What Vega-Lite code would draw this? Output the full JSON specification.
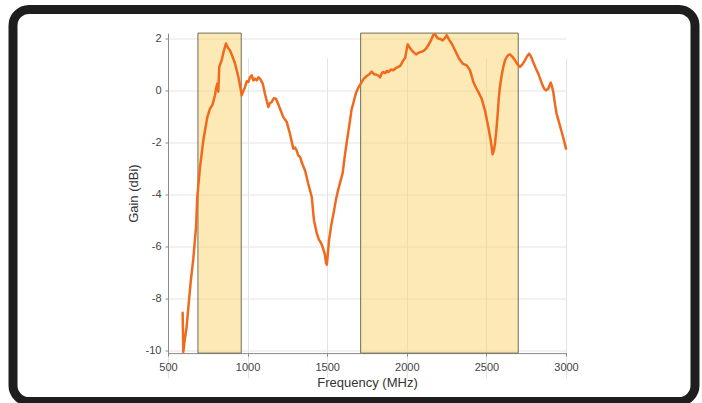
{
  "$schema": "https://vega.github.io/schema/vega-lite/v6.json",
  "width": 682,
  "height": 392,
  "autosize": "none",
  "padding": {"left": 13, "top": 9.5, "right": 7, "bottom": 1.5},
  "background": "white",
  "config": {
    "view": {"stroke": "#1e1e1e", "strokeWidth": 9, "cornerRadius": 16, "fill": "white"},
    "font": "Liberation Sans",
    "axis": {
      "gridColor": "#e3e3e3",
      "gridWidth": 1,
      "domainColor": "#8a8a8a",
      "domainWidth": 1,
      "tickColor": "#8a8a8a",
      "tickSize": 3,
      "labelColor": "#444444",
      "labelFontSize": 11,
      "labelFont": "Liberation Sans",
      "labelFlush": false,
      "titleFont": "Liberation Sans",
      "titleFontSize": 13,
      "titleFontWeight": "normal",
      "titleColor": "#333333"
    }
  },
  "datasets": {
    "bands": [
      {"lo": 688, "hi": 960},
      {"lo": 1710, "hi": 2700}
    ],
    "curve": [
      {"f": 592, "g": -8.55}, {"f": 596, "g": -10.06}, {"f": 605, "g": -9.6}, {"f": 617, "g": -9.1},
      {"f": 628, "g": -8.33}, {"f": 642, "g": -7.4}, {"f": 659, "g": -6.47}, {"f": 676, "g": -5.26},
      {"f": 684, "g": -4.1}, {"f": 701, "g": -2.95}, {"f": 722, "g": -1.92}, {"f": 747, "g": -1.03},
      {"f": 764, "g": -0.7}, {"f": 780, "g": -0.55}, {"f": 795, "g": -0.19}, {"f": 803, "g": 0.1},
      {"f": 810, "g": 0.26}, {"f": 816, "g": -0.05}, {"f": 822, "g": 0.9}, {"f": 837, "g": 1.15},
      {"f": 850, "g": 1.5}, {"f": 864, "g": 1.8}, {"f": 875, "g": 1.65}, {"f": 889, "g": 1.54},
      {"f": 905, "g": 1.3}, {"f": 921, "g": 1.03}, {"f": 942, "g": 0.51}, {"f": 955, "g": 0.1},
      {"f": 963, "g": -0.19}, {"f": 975, "g": 0.0}, {"f": 984, "g": 0.13}, {"f": 995, "g": 0.35},
      {"f": 1005, "g": 0.32}, {"f": 1015, "g": 0.5}, {"f": 1026, "g": 0.58}, {"f": 1036, "g": 0.38},
      {"f": 1046, "g": 0.45}, {"f": 1057, "g": 0.38}, {"f": 1068, "g": 0.5}, {"f": 1078, "g": 0.45},
      {"f": 1095, "g": 0.26}, {"f": 1109, "g": -0.13}, {"f": 1120, "g": -0.4}, {"f": 1130, "g": -0.64},
      {"f": 1140, "g": -0.5}, {"f": 1151, "g": -0.45}, {"f": 1165, "g": -0.3}, {"f": 1178, "g": -0.32},
      {"f": 1190, "g": -0.5}, {"f": 1203, "g": -0.7}, {"f": 1224, "g": -1.03}, {"f": 1246, "g": -1.22},
      {"f": 1266, "g": -1.67}, {"f": 1287, "g": -2.24}, {"f": 1298, "g": -2.2}, {"f": 1308, "g": -2.31},
      {"f": 1318, "g": -2.5}, {"f": 1329, "g": -2.56}, {"f": 1345, "g": -2.85}, {"f": 1361, "g": -3.08},
      {"f": 1381, "g": -3.59}, {"f": 1403, "g": -4.1}, {"f": 1417, "g": -5.0}, {"f": 1435, "g": -5.5},
      {"f": 1448, "g": -5.74}, {"f": 1460, "g": -5.85}, {"f": 1470, "g": -6.0}, {"f": 1485, "g": -6.3},
      {"f": 1493, "g": -6.64}, {"f": 1498, "g": -6.7}, {"f": 1505, "g": -6.2}, {"f": 1512, "g": -5.74},
      {"f": 1525, "g": -5.2}, {"f": 1540, "g": -4.72}, {"f": 1555, "g": -4.2}, {"f": 1569, "g": -3.82},
      {"f": 1583, "g": -3.5}, {"f": 1597, "g": -3.18}, {"f": 1611, "g": -2.5}, {"f": 1625, "g": -1.9},
      {"f": 1640, "g": -1.3}, {"f": 1653, "g": -0.74}, {"f": 1668, "g": -0.4}, {"f": 1681, "g": -0.1},
      {"f": 1695, "g": 0.1}, {"f": 1710, "g": 0.25}, {"f": 1730, "g": 0.45}, {"f": 1748, "g": 0.55},
      {"f": 1765, "g": 0.62}, {"f": 1779, "g": 0.72}, {"f": 1795, "g": 0.62}, {"f": 1810, "g": 0.6},
      {"f": 1825, "g": 0.55}, {"f": 1832, "g": 0.5}, {"f": 1845, "g": 0.68}, {"f": 1852, "g": 0.7},
      {"f": 1865, "g": 0.66}, {"f": 1875, "g": 0.75}, {"f": 1884, "g": 0.7}, {"f": 1900, "g": 0.8},
      {"f": 1915, "g": 0.77}, {"f": 1930, "g": 0.85}, {"f": 1947, "g": 0.9}, {"f": 1960, "g": 0.95},
      {"f": 1978, "g": 1.15}, {"f": 1990, "g": 1.25}, {"f": 2000, "g": 1.6}, {"f": 2006, "g": 1.77},
      {"f": 2018, "g": 1.65}, {"f": 2031, "g": 1.54}, {"f": 2045, "g": 1.45}, {"f": 2058, "g": 1.38},
      {"f": 2075, "g": 1.45}, {"f": 2090, "g": 1.48}, {"f": 2104, "g": 1.51}, {"f": 2120, "g": 1.6},
      {"f": 2135, "g": 1.73}, {"f": 2150, "g": 1.9}, {"f": 2166, "g": 2.12}, {"f": 2177, "g": 2.16},
      {"f": 2188, "g": 2.05}, {"f": 2198, "g": 1.99}, {"f": 2212, "g": 1.97}, {"f": 2225, "g": 1.92},
      {"f": 2238, "g": 2.0}, {"f": 2251, "g": 2.12}, {"f": 2265, "g": 1.95}, {"f": 2282, "g": 1.8},
      {"f": 2298, "g": 1.6}, {"f": 2313, "g": 1.41}, {"f": 2330, "g": 1.2}, {"f": 2351, "g": 1.03},
      {"f": 2376, "g": 0.96}, {"f": 2397, "g": 0.77}, {"f": 2410, "g": 0.5}, {"f": 2418, "g": 0.32},
      {"f": 2435, "g": 0.1}, {"f": 2449, "g": -0.06}, {"f": 2470, "g": -0.32}, {"f": 2491, "g": -0.77},
      {"f": 2505, "g": -1.2}, {"f": 2512, "g": -1.41}, {"f": 2527, "g": -1.92}, {"f": 2539, "g": -2.46},
      {"f": 2547, "g": -2.3}, {"f": 2554, "g": -2.05}, {"f": 2563, "g": -1.5}, {"f": 2571, "g": -0.9},
      {"f": 2578, "g": -0.3}, {"f": 2585, "g": 0.13}, {"f": 2595, "g": 0.55}, {"f": 2606, "g": 0.9},
      {"f": 2617, "g": 1.15}, {"f": 2627, "g": 1.28}, {"f": 2638, "g": 1.36}, {"f": 2648, "g": 1.38},
      {"f": 2665, "g": 1.28}, {"f": 2680, "g": 1.15}, {"f": 2695, "g": 1.0}, {"f": 2711, "g": 0.9},
      {"f": 2726, "g": 1.0}, {"f": 2742, "g": 1.15}, {"f": 2755, "g": 1.3}, {"f": 2768, "g": 1.41},
      {"f": 2780, "g": 1.3}, {"f": 2794, "g": 1.09}, {"f": 2810, "g": 0.85}, {"f": 2826, "g": 0.64},
      {"f": 2840, "g": 0.4}, {"f": 2853, "g": 0.19}, {"f": 2864, "g": 0.05}, {"f": 2874, "g": 0.0},
      {"f": 2889, "g": 0.06}, {"f": 2897, "g": 0.2}, {"f": 2904, "g": 0.3}, {"f": 2912, "g": 0.15},
      {"f": 2920, "g": -0.06}, {"f": 2930, "g": -0.5}, {"f": 2941, "g": -0.9}, {"f": 2957, "g": -1.25},
      {"f": 2973, "g": -1.6}, {"f": 2986, "g": -1.9}, {"f": 3000, "g": -2.24}
    ]
  },
  "layer": [
    {
      "data": {"name": "bands"},
      "mark": {"type": "rect", "fill": "#FBD36B", "fillOpacity": 0.5, "stroke": "#6f6d5c", "strokeWidth": 1},
      "encoding": {
        "x": {
          "field": "lo", "type": "quantitative",
          "scale": {"domain": [500, 3000], "range": [155, 553], "nice": false, "zero": false},
          "axis": {
            "title": "Frequency (MHz)", "values": [500, 1000, 1500, 2000, 2500, 3000], "format": "d",
            "offset": -48.4, "grid": true, "labelPadding": 5, "titlePadding": 4
          }
        },
        "x2": {"field": "hi"},
        "y": {
          "datum": 2.2, "type": "quantitative",
          "scale": {"domain": [-10.1, 2.2], "range": [343.6, 23.6], "nice": false, "zero": false},
          "axis": {
            "title": "Gain (dBi)", "values": [-10, -8, -6, -4, -2, 0, 2],
            "labelExpr": "datum.value < 0 ? '-' + abs(datum.value) : '' + datum.value",
            "offset": -155, "grid": true, "labelPadding": 4, "titlePadding": 5
          }
        },
        "y2": {"datum": -10.1}
      }
    },
    {
      "data": {"name": "curve"},
      "mark": {"type": "line", "color": "#F06A1E", "strokeWidth": 2.5, "strokeJoin": "round", "strokeCap": "round"},
      "encoding": {
        "x": {"field": "f", "type": "quantitative"},
        "y": {"field": "g", "type": "quantitative"}
      }
    }
  ]
}
